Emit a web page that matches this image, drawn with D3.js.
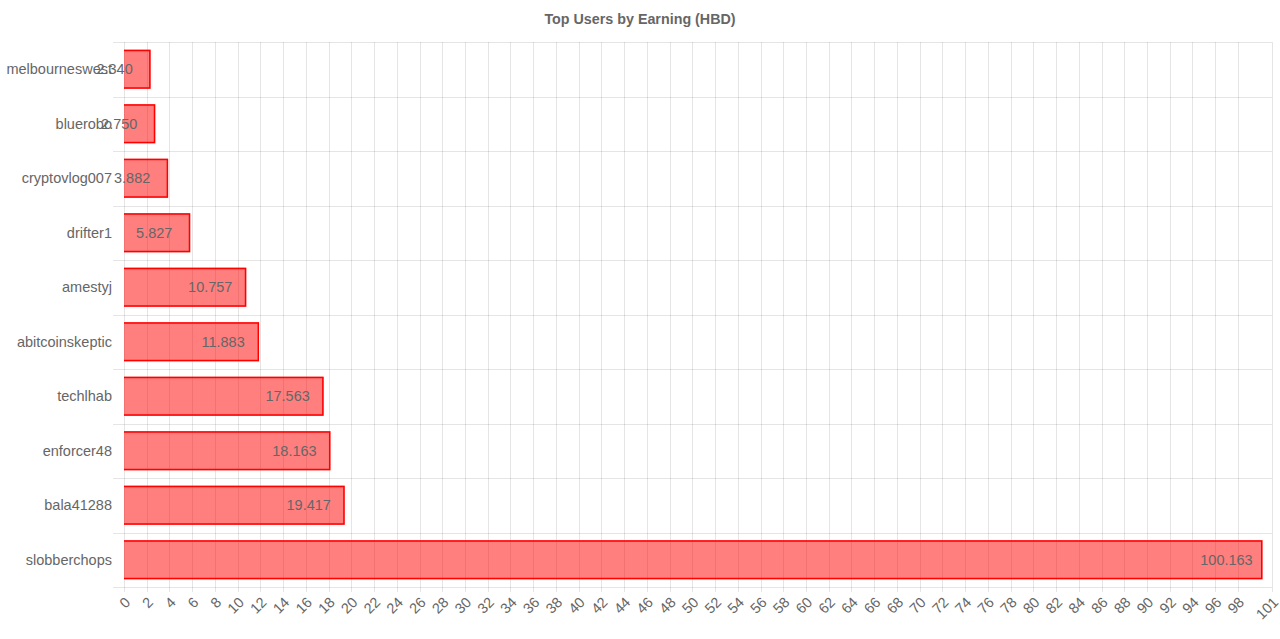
<!DOCTYPE html>
<html>
<head>
<meta charset="utf-8">
<script src="https://cdn.jsdelivr.net/npm/d3@7/dist/d3.min.js"></script>
<style>
  html, body { margin: 0; padding: 0; background: #fff; }
  svg { display: block; font-family: "Liberation Sans", Arial, Helvetica, sans-serif; }
</style>
</head>
<body>
<svg id="chart" width="1280" height="639"></svg>
<script>
const title = "Top Users by Earning (HBD)";
const users = ["melbourneswest", "bluerobo", "cryptovlog007", "drifter1", "amestyj",
               "abitcoinskeptic", "techlhab", "enforcer48", "bala41288", "slobberchops"];
const earnings = [2.340, 2.750, 3.882, 5.827, 10.757, 11.883, 17.563, 18.163, 19.417, 100.163];
const xTicks = d3.range(0, 100, 2).concat([101]);
const xMax = 101;

const svg = d3.select("#chart");
const margin = { left: 124, right: 8, top: 42, bottom: 52 };
const W = 1280, H = 639;
const x = d3.scaleLinear().domain([0, xMax]).range([margin.left, W - margin.right]);
const y = d3.scaleBand().domain(users).range([margin.top, H - margin.bottom]);
const gridColor = "rgba(0,0,0,0.1)";
const textColor = "#666";
const fs = 14.5;

// title
svg.append("text")
  .attr("x", 640).attr("y", 24)
  .attr("text-anchor", "middle")
  .attr("font-weight", "bold")
  .attr("font-size", 14.3)
  .attr("fill", textColor)
  .text(title);

// vertical grid lines
const grid = svg.append("g");
grid.selectAll("line.v").data(xTicks).enter().append("line")
  .attr("x1", d => Math.round(x(d)) + 0.5).attr("x2", d => Math.round(x(d)) + 0.5)
  .attr("y1", margin.top).attr("y2", H - margin.bottom + 5)
  .attr("stroke", gridColor).attr("stroke-width", 1);

// horizontal grid lines at category boundaries
const bounds = users.map(u => y(u)).concat([y.range()[1]]);
grid.selectAll("line.h").data(bounds).enter().append("line")
  .attr("x1", margin.left - 11).attr("x2", W - margin.right)
  .attr("y1", d => Math.round(d) + 0.5).attr("y2", d => Math.round(d) + 0.5)
  .attr("stroke", gridColor).attr("stroke-width", 1);

// bars
const barH = y.bandwidth() * 0.72;
const bars = svg.append("g").selectAll("g").data(users).enter().append("g");
bars.append("rect")
  .attr("x", x(0))
  .attr("y", (d) => y(d) + (y.bandwidth() - barH) / 2)
  .attr("width", (d, i) => x(earnings[i]) - x(0))
  .attr("height", barH)
  .attr("fill", "rgba(255,0,0,0.5)");
bars.append("path")
  .attr("d", (d, i) => {
    const x0 = x(0), x1 = x(earnings[i]) - 0.75;
    const y0 = y(d) + (y.bandwidth() - barH) / 2 + 0.75, y1 = y0 + barH - 1.5;
    return `M${x0},${y0}H${x1}V${y1}H${x0}`;
  })
  .attr("fill", "none")
  .attr("stroke", "rgb(255,0,0)")
  .attr("stroke-width", 1.5);

// y labels
svg.append("g").selectAll("text").data(users).enter().append("text")
  .attr("x", margin.left - 12)
  .attr("y", d => y(d) + y.bandwidth() / 2)
  .attr("dy", "0.35em")
  .attr("text-anchor", "end")
  .attr("font-size", fs)
  .attr("fill", textColor)
  .text(d => d);

// data labels
svg.append("g").selectAll("text").data(users).enter().append("text")
  .attr("x", (d, i) => x(earnings[i]) - 36)
  .attr("y", d => y(d) + y.bandwidth() / 2)
  .attr("dy", "0.35em")
  .attr("text-anchor", "middle")
  .attr("font-size", fs)
  .attr("fill", textColor)
  .text((d, i) => earnings[i].toFixed(3));

// x tick labels rotated
svg.append("g").selectAll("text").data(xTicks).enter().append("text")
  .attr("transform", d => `translate(${x(d) + 0},${H - margin.bottom + 9}) rotate(-45)`)
  .attr("dy", "0.7em")
  .attr("text-anchor", "end")
  .attr("font-size", fs)
  .attr("fill", textColor)
  .text(d => d);
</script>
</body>
</html>
